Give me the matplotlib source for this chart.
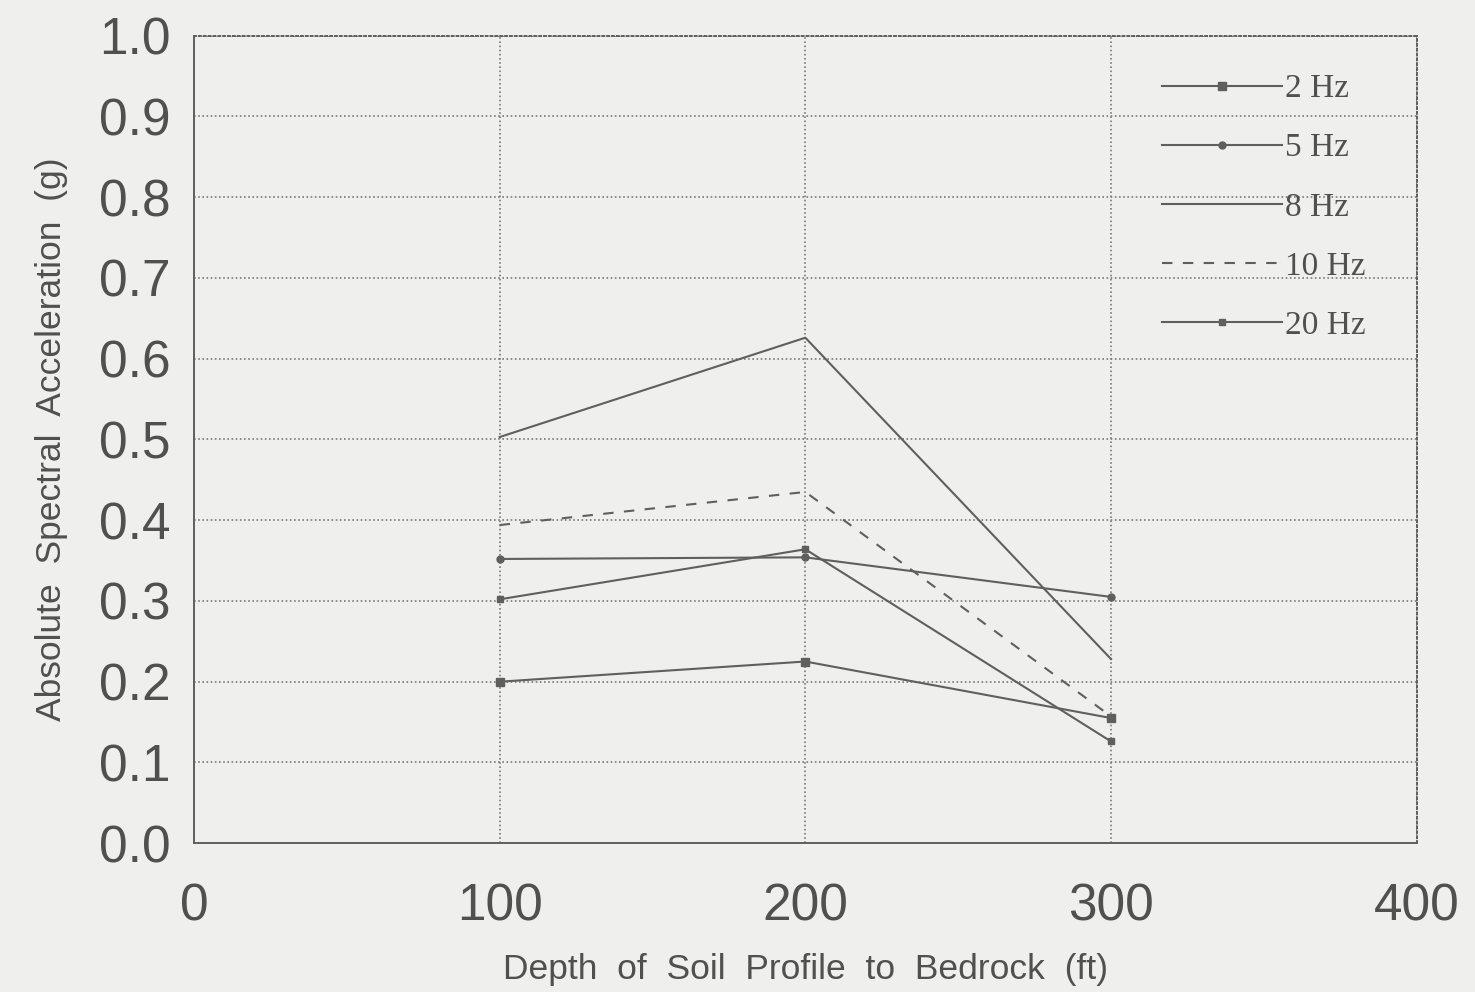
import numpy as np
import matplotlib.pyplot as plt

depth = [100, 200, 300]
hz2 = [0.20, 0.225, 0.155]
hz5 = [0.352, 0.354, 0.305]
hz8 = [0.503, 0.626, 0.228]
hz10 = [0.394, 0.435, 0.157]
hz20 = [0.302, 0.364, 0.126]

ink = '#5f5f5f'
txt = '#505050'

fig = plt.figure(figsize=(14.75, 9.92), dpi=100, facecolor='#efefed')
ax = fig.add_axes([0.1315, 0.150, 0.829, 0.814])
ax.set_facecolor('#efefed')

ax.plot(depth, hz2, color=ink, lw=1.5, marker='s', ms=6, label='2 Hz')
ax.plot(depth, hz5, color=ink, lw=1.5, marker='o', ms=5, label='5 Hz')
ax.plot(depth, hz8, color=ink, lw=1.5, label='8 Hz')
ax.plot(depth, hz10, color=ink, lw=1.5, ls=(0, (5, 5)), label='10 Hz')
ax.plot(depth, hz20, color=ink, lw=1.5, marker='s', ms=5, label='20 Hz')

ax.set_xlim(0, 400)
ax.set_ylim(0, 1.0)
ax.set_xticks([0, 100, 200, 300, 400])
ax.set_yticks(np.arange(0, 1.01, 0.1))
ax.set_yticklabels(['%.1f' % v for v in np.arange(0, 1.01, 0.1)])
ax.grid(True, color='#7a7a7a', ls=(0, (1, 1.5)), lw=1.2)
ax.tick_params(length=0, labelsize=37, labelcolor=txt, pad=17)
ax.tick_params(axis='x', pad=28)
for lab in ax.get_xticklabels() + ax.get_yticklabels():
    lab.set_family('Liberation Sans')
for s in ax.spines.values():
    s.set_color(ink)
    s.set_linewidth(1.4)
ax.spines['top'].set_linestyle((0, (1, 1.5)))
ax.spines['right'].set_linestyle((0, (1, 1.5)))

ax.set_xlabel('Depth  of  Soil  Profile  to  Bedrock  (ft)', fontsize=25.5,
              family='Liberation Sans', color=txt, labelpad=16)
ax.set_ylabel('Absolute  Spectral  Acceleration  (g)', fontsize=25.5,
              family='Liberation Sans', color=txt, labelpad=22)

leg = ax.legend(loc='upper right', bbox_to_anchor=(0.983, 0.99), frameon=False,
                prop={'family': 'Liberation Serif', 'size': 24},
                handlelength=3.6, handletextpad=0.1, labelspacing=0.86,
                labelcolor=txt)
leg.set_zorder(5)

fig.savefig('out.png', dpi=100, facecolor=fig.get_facecolor())
